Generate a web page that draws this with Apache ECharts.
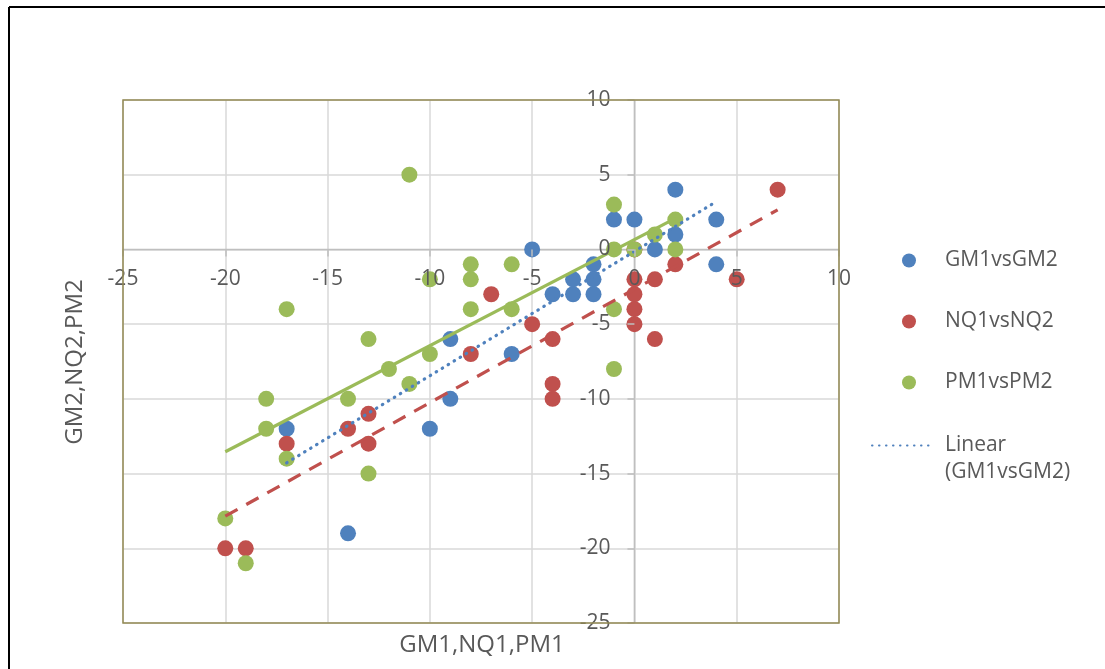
<!DOCTYPE html>
<html>
<head>
<meta charset="utf-8">
<script src="https://cdn.jsdelivr.net/npm/echarts@6/dist/echarts.min.js"></script>
<style>
  html, body { margin: 0; padding: 0; background: #ffffff; }
  #chart { width: 1105px; height: 669px; }
</style>
</head>
<body>
<div id="chart"></div>
<script>
// Paired scores: first test (x) against second test (y)
const gmPoints = [[-17,-12],[-14,-19],[-10,-12],[-9,-10],[-9,-6],[-6,-7],[-5,0],[-4,-3],[-3,-2],[-3,-3],
                  [-2,-1],[-2,-2],[-2,-3],[-1,2],[0,2],[1,0],[2,4],[2,1],[4,2],[4,-1]];
const nqPoints = [[-20,-20],[-19,-20],[-17,-13],[-14,-12],[-13,-11],[-13,-13],[-8,-7],[-7,-3],[-5,-5],[-4,-6],
                  [-4,-9],[-4,-10],[0,0],[0,-2],[0,-3],[0,-4],[0,-5],[1,-2],[1,-6],[2,-1],[5,-2],[7,4]];
const pmPoints = [[-20,-18],[-19,-21],[-18,-10],[-18,-12],[-17,-4],[-17,-14],[-14,-10],[-13,-6],[-13,-15],[-12,-8],
                  [-11,5],[-11,-9],[-10,-2],[-10,-7],[-8,-1],[-8,-2],[-8,-4],[-6,-1],[-6,-4],[-1,3],
                  [-1,0],[-1,-4],[-1,-8],[0,0],[1,1],[2,2],[2,0]];

// Linear trend lines (end points)
const gmTrend = [[-17,-14.28],[4,3.2]];
const nqTrend = [[-20,-17.85],[7,2.65]];
const pmTrend = [[-20,-13.54],[2,2.08]];

const seriesNames = ['GM1vsGM2', 'NQ1vsNQ2', 'PM1vsPM2'];
const trendNames = ['Linear (GM1vsGM2)', 'Linear (NQ1vsNQ2)', 'Linear (PM1vsPM2)'];
const xTitle = 'GM1,NQ1,PM1';
const yTitle = 'GM2,NQ2,PM2';
const axisMin = -25, axisMax = 10, axisStep = 5;

const FONT = '"Open Sans", "Noto Sans", sans-serif';
const TEXT = '#595959';
const AXIS_GREY = '#BFBFBF';
const PLOT_BORDER = '#948A54';
const COLORS = ['#4F81BD', '#C0504D', '#9BBB59'];

// plot area
const W = 1105, H = 669;
const GRID = { left: 123, top: 100, right: 266, bottom: 46 };
const plotW = W - GRID.left - GRID.right;
const plotH = H - GRID.top - GRID.bottom;
// shift that moves each axis from the plot edge to the other axis' zero
const zeroFrac = (0 - axisMin) / (axisMax - axisMin);
const xAxisShift = -plotH * zeroFrac;
const yAxisShift = -plotW * zeroFrac;

const chart = echarts.init(document.getElementById('chart'), null, { renderer: 'canvas' });

const baseAxis = {
  type: 'value', min: axisMin, max: axisMax, interval: axisStep
};
// axes crossing at zero: tick marks and tick labels, drawn above the markers
const labelAxis = (pos, offset, margin) => Object.assign({}, baseAxis, {
  position: pos,
  offset: offset,
  z: 10,
  axisLine: { show: false, onZero: false },
  axisTick: { show: true, length: 7, lineStyle: { color: AXIS_GREY, width: 1.5 } },
  splitLine: { show: false },
  axisLabel: { show: true, margin: margin, color: TEXT, fontFamily: FONT, fontSize: 21 }
});
// companion axes that only draw the grid lines, beneath everything
const gridAxis = (pos) => Object.assign({}, baseAxis, {
  position: pos,
  z: 0,
  axisLine: { show: false, onZero: false },
  axisTick: { show: false },
  axisLabel: { show: false },
  splitLine: { show: true, lineStyle: { color: '#D9D9D9', width: 1.5 } }
});

const scatter = (name, data, color) => ({
  name, type: 'scatter', data, xAxisIndex: 0, yAxisIndex: 0,
  symbol: 'circle', symbolSize: 16, z: 2,
  itemStyle: { color: color, opacity: 1 }
});
const trend = (name, data, color, type, cap) => ({
  name, type: 'line', data, xAxisIndex: 0, yAxisIndex: 0,
  symbol: 'none', z: 3, silent: true,
  lineStyle: { color: color, width: 3.2, type: type, cap: cap }
});
// zero lines of both axes, under the markers
const zeroLine = (name, data) => ({
  name, type: 'line', data, xAxisIndex: 0, yAxisIndex: 0,
  symbol: 'none', z: 1, silent: true,
  lineStyle: { color: AXIS_GREY, width: 1.5, type: 'solid' }
});

chart.setOption({
  animation: false,
  backgroundColor: '#ffffff',
  grid: Object.assign({}, GRID, { show: false }),
  xAxis: [labelAxis('bottom', xAxisShift, 19), gridAxis('top')],
  yAxis: [labelAxis('left', yAxisShift, 24), gridAxis('right')],
  legend: [
    {
      orient: 'vertical', left: 897, top: 245,
      itemWidth: 14, itemHeight: 14, itemGap: 40, icon: 'circle',
      data: seriesNames,
      textStyle: { color: TEXT, fontFamily: FONT, fontSize: 21, padding: [0, 0, 0, 24] }
    },
    {
      orient: 'vertical', left: 866, top: 400,
      itemWidth: 63, itemHeight: 14,
      data: [trendNames[0]],
      itemStyle: { opacity: 0 },
      formatter: (name) => '\n' + name.replace(' ', '\n'),
      textStyle: { color: TEXT, fontFamily: FONT, fontSize: 21, lineHeight: 27, padding: [0, 0, 0, 5] }
    }
  ],
  graphic: [
    // outer frame (top and left edges)
    { type: 'line', shape: { x1: 9, y1: 7, x2: W, y2: 7 }, style: { stroke: '#000000', lineWidth: 2 } },
    { type: 'line', shape: { x1: 9, y1: 7, x2: 9, y2: H }, style: { stroke: '#000000', lineWidth: 2 } },
    // plot-area border
    { type: 'rect', z: 20,
      shape: { x: GRID.left, y: GRID.top, width: plotW, height: plotH },
      style: { fill: 'none', stroke: PLOT_BORDER, lineWidth: 1.5 } },
    { type: 'text', x: 482, y: 645,
      style: { text: xTitle, fill: TEXT, font: '24px ' + FONT, align: 'center', verticalAlign: 'middle' } },
    { type: 'text', x: 75, y: 362, rotation: Math.PI / 2,
      style: { text: yTitle, fill: TEXT, font: '24px ' + FONT, align: 'center', verticalAlign: 'middle' } }
  ],
  series: [
    zeroLine('x zero', [[axisMin, 0], [axisMax, 0]]),
    zeroLine('y zero', [[0, axisMin], [0, axisMax]]),
    scatter(seriesNames[0], gmPoints, COLORS[0]),
    scatter(seriesNames[1], nqPoints, COLORS[1]),
    scatter(seriesNames[2], pmPoints, COLORS[2]),
    trend(trendNames[0], gmTrend, COLORS[0], [0.5, 6.5], 'round'),
    trend(trendNames[1], nqTrend, COLORS[1], [14, 10], 'butt'),
    trend(trendNames[2], pmTrend, COLORS[2], 'solid', 'butt')
  ]
});
</script>
</body>
</html>
